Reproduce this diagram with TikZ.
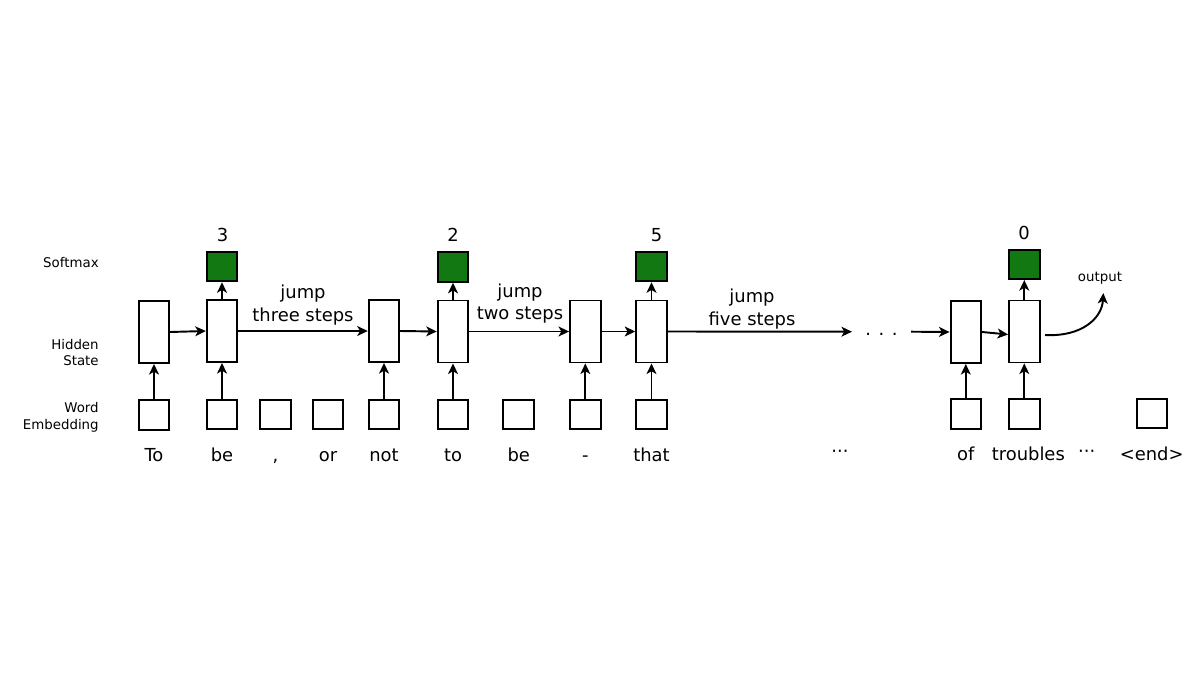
\documentclass[tikz,border=0pt]{standalone}
\usepackage{fontspec}
\setmainfont{DejaVu Sans}
\usetikzlibrary{arrows.meta}
\definecolor{smgreen}{RGB}{18,121,18}
\begin{document}
\begin{tikzpicture}[x=0.02cm,y=-0.02cm,
  box/.style={draw=black,line width=1.1pt,fill=white,inner sep=0,minimum width=0.61cm},
  hid/.style={box,minimum height=1.24cm},
  emb/.style={box,minimum height=0.59cm},
  smx/.style={box,fill=smgreen,minimum height=0.59cm},
  arr/.style={line width=1.1pt,-{Stealth[length=6pt,width=5.6pt,inset=1.6pt]}},
  word/.style={font=\fontsize{10.2}{12}\selectfont,anchor=base,inner sep=0},
  num/.style={font=\fontsize{10.2}{12}\selectfont,inner sep=0},
  side/.style={font=\fontsize{7.6}{9.6}\selectfont,align=right,anchor=east,inner sep=0},
  small/.style={font=\fontsize{7.6}{9.6}\selectfont,inner sep=0},
  jumplbl/.style={font=\fontsize{10.2}{13}\selectfont,align=center,inner sep=0}]
\useasboundingbox (0,0) rectangle (1200,686);

% side labels
\node[side] (lsm) at (99,263) {Softmax};
\node[side] (lhs) at (99,352.5) {Hidden\\State};
\node[side] (lwe) at (99,417.5) {Word\\Embedding};

% hidden states
\node[hid] (h1) at (154,332) {};
\node[hid] (h2) at (222,331) {};
\node[hid] (h3) at (384,331) {};
\node[hid] (h4) at (453,331.5) {};
\node[hid] (h5) at (585.3,331.5) {};
\node[hid] (h6) at (651.5,331.5) {};
\node[hid] (h7) at (965.8,332) {};
\node[hid] (h8) at (1024.3,331.5) {};

% embeddings
\node[emb] (e1) at (154,415) {};
\node[emb] (e2) at (222,414.5) {};
\node[emb] (e3) at (275.5,414.5) {};
\node[emb] (e4) at (328,414.5) {};
\node[emb] (e5) at (384,414.5) {};
\node[emb] (e6) at (453,414.5) {};
\node[emb] (e7) at (518.7,414.5) {};
\node[emb] (e8) at (585.3,414.5) {};
\node[emb] (e9) at (651.5,414.5) {};
\node[emb] (e10) at (965.8,414) {};
\node[emb] (e11) at (1024.3,414) {};
\node[emb] (e12) at (1152,413.5) {};

% softmax
\node[smx] (s1) at (222,266.5) {};
\node[smx] (s2) at (453,267) {};
\node[smx] (s3) at (651.5,266.5) {};
\node[smx] (s4) at (1024.3,264.3) {};

% numbers
\node[num] (n1) at (222.5,235) {3};
\node[num] (n2) at (453,235) {2};
\node[num] (n3) at (656.5,235) {5};
\node[num] (n4) at (1024,233) {0};

% vertical arrows
\draw[arr] (e1.north) -- (h1.south);
\draw[arr] (e2.north) -- (h2.south);
\draw[arr] (e5.north) -- (h3.south);
\draw[arr] (e6.north) -- (h4.south);
\draw[arr] (e8.north) -- (h5.south);
\draw[arr] (e9.north) -- (h6.south);
\draw[arr] (e10.north) -- (h7.south);
\draw[arr] (e11.north) -- (h8.south);
\draw[arr] (h2.north) -- (s1.south);
\draw[arr] (h4.north) -- (s2.south);
\draw[arr] (h6.north) -- (s3.south);
\draw[arr] (h8.north) -- (s4.south);

% horizontal arrows
\draw[arr] (h1.east) -- (h2.west);
\draw[arr] (h2.east) -- (h3.west);
\draw[arr] (h3.east) -- (h4.west);
\draw[arr] (h4.east) -- (h5.west);
\draw[arr] (h5.east) -- (h6.west);
\coordinate (c1) at (852,331.7);
\coordinate (c2) at (911,331.7);
\draw[arr] (h6.east) -- (c1);
\node[word] (hdots) at (881.5,335) {. . .};
\draw[arr] (c2) -- (h7.west);
\draw[arr] (h7.east) -- ([yshift=-1.7pt]h8.west);

% jump labels
\node[jumplbl] (j1) at (303,305) {jump\\three steps};
\node[jumplbl] (j2) at (520,303.5) {jump\\two steps};
\node[jumplbl] (j3) at (752,309) {jump\\five steps};

% output
\coordinate (o1) at (1045,335);
\coordinate (o2) at (1103.3,293);
\draw[arr] (o1) .. controls (1082,337) and (1102,318) .. (o2);
\node[small] (out) at (1100,278) {output};

% words
\node[word] (w1) at (154,461) {To};
\node[word] (w2) at (222,461) {be};
\node[word] (w3) at (275.5,461) {,};
\node[word] (w4) at (328,461) {or};
\node[word] (w5) at (384,461) {not};
\node[word] (w6) at (453,461) {to};
\node[word] (w7) at (518.7,461) {be};
\node[word] (w8) at (585.3,461) {-};
\node[word] (w9) at (651.5,461) {that};
\node[word] (w10) at (840,457.5) {···};
\node[word] (w11) at (965.8,460) {of};
\node[word] (w12) at (1028.3,460) {troubles};
\node[word] (w13) at (1086.7,457.5) {···};
\node[word] (w14) at (1151.7,460) {<end>};
\end{tikzpicture}
\end{document}
